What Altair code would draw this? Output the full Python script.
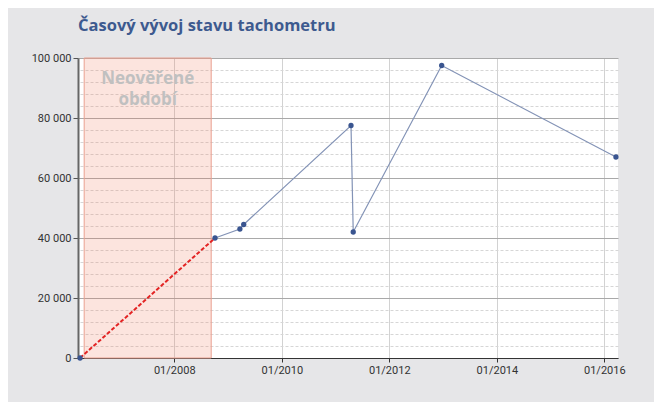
import altair as alt
import pandas as pd

# --- data ---
dates = ["2006-04-01", "2008-10-04", "2009-03-22", "2009-04-17",
         "2011-04-16", "2011-05-01", "2012-12-22", "2016-03-20"]
km = [0, 40000, 43000, 44500, 77500, 42000, 97500, 67000]

shade_start = ["2006-04-29"]
shade_end = ["2008-09-08"]
shade_label = ["Neověřené\nobdobí"]

x_ticks_years = [2008, 2010, 2012, 2014, 2016]
y_major = [0, 20000, 40000, 60000, 80000, 100000]
y_minor = [v for v in range(0, 100001, 4000) if v % 20000 != 0]

title_text = "Časový vývoj stavu tachometru"

pts = pd.DataFrame({"date": [d + "T00:00:00" for d in dates], "km": km})
unverified = pts.iloc[:2]
verified = pts.iloc[1:]
shade = pd.DataFrame({
    "start": [s + "T00:00:00" for s in shade_start],
    "end": [e + "T00:00:00" for e in shade_end],
    "label": shade_label,
})

FONT = "Roboto"
x_scale = alt.Scale(domain=[alt.DateTime(year=2006, month=3, date=18),
                            alt.DateTime(year=2016, month=4, date=3)])
y_scale = alt.Scale(domain=[0, 100000], nice=False)

x_axis = alt.Axis(
    title=None, format="%m/%Y",
    values=[alt.DateTime(year=y, month=1, date=1) for y in x_ticks_years],
    grid=True, gridColor="#d2d2d2", gridWidth=1,
    domainColor="#333333", domainWidth=1.2,
    tickColor="#333333", tickSize=4, labelPadding=2,
    labelFont=FONT, labelFontSize=11, labelColor="#333333",
)
y_axis_major = alt.Axis(
    title=None, values=y_major,
    labelExpr="replace(format(datum.value, ','), ',', ' ')",
    grid=True, gridColor="#a9a9a9", gridWidth=1,
    domainColor="#666666", domainWidth=2,
    tickColor="#555555", tickSize=5, labelPadding=2,
    labelFont=FONT, labelFontSize=11, labelColor="#333333",
)
y_axis_minor = alt.Axis(
    title=None, values=y_minor, orient="right",
    grid=True, gridColor="#d6d6d6", gridDash=[3, 2], gridWidth=1,
    labels=False, ticks=False, domain=False,
)

band = alt.Chart(shade).mark_rect(
    fill="#f0785a", fillOpacity=0.2, stroke="#e9a090", strokeWidth=1
).encode(
    x=alt.X("start:T", scale=x_scale, axis=x_axis),
    x2="end:T",
    y=alt.Y(datum=0, type="quantitative", scale=y_scale, axis=y_axis_minor),
    y2=alt.datum(100000),
)

band_text = alt.Chart(shade).transform_calculate(
    mid="(toDate(datum.start) + toDate(datum.end)) / 2"
).mark_text(
    font="Open Sans", fontSize=17, fontWeight="bold", color="#c0c0c0",
    lineBreak="\n", baseline="top", dy=13, lineHeight=21,
).encode(
    x=alt.X("mid:T", scale=x_scale),
    y=alt.Y(datum=100000, type="quantitative", scale=y_scale, axis=None),
    text="label:N",
)

red = alt.Chart(unverified).mark_line(
    color="#e32424", strokeDash=[4, 2], strokeWidth=2
).encode(
    x=alt.X("date:T", scale=x_scale),
    y=alt.Y("km:Q", scale=y_scale, axis=y_axis_major),
)

blue = alt.Chart(verified).mark_line(color="#8393b6", strokeWidth=1.2).encode(
    x=alt.X("date:T", scale=x_scale),
    y=alt.Y("km:Q", scale=y_scale, axis=None),
)

dots = alt.Chart(pts).mark_point(filled=True, size=28, color="#3a5590", opacity=1).encode(
    x=alt.X("date:T", scale=x_scale),
    y=alt.Y("km:Q", scale=y_scale, axis=None),
)

chart = alt.layer(band, red, band_text, blue, dots).resolve_axis(
    y="independent"
).properties(
    width=540, height=300,
    title=alt.TitleParams(
        title_text, anchor="start", frame="group",
        font="Open Sans", fontSize=16.5, fontWeight="bold", color="#3d5a8f",
        offset=18,
    ),
    autosize=alt.AutoSizeParams(type="none"),
    padding={"left": 70, "top": 50, "right": 36, "bottom": 44},
    background="#e6e6e8",
).configure_view(fill="white", stroke=None)

chart.save("out.html", embed_options={"renderer": "svg", "actions": False})
